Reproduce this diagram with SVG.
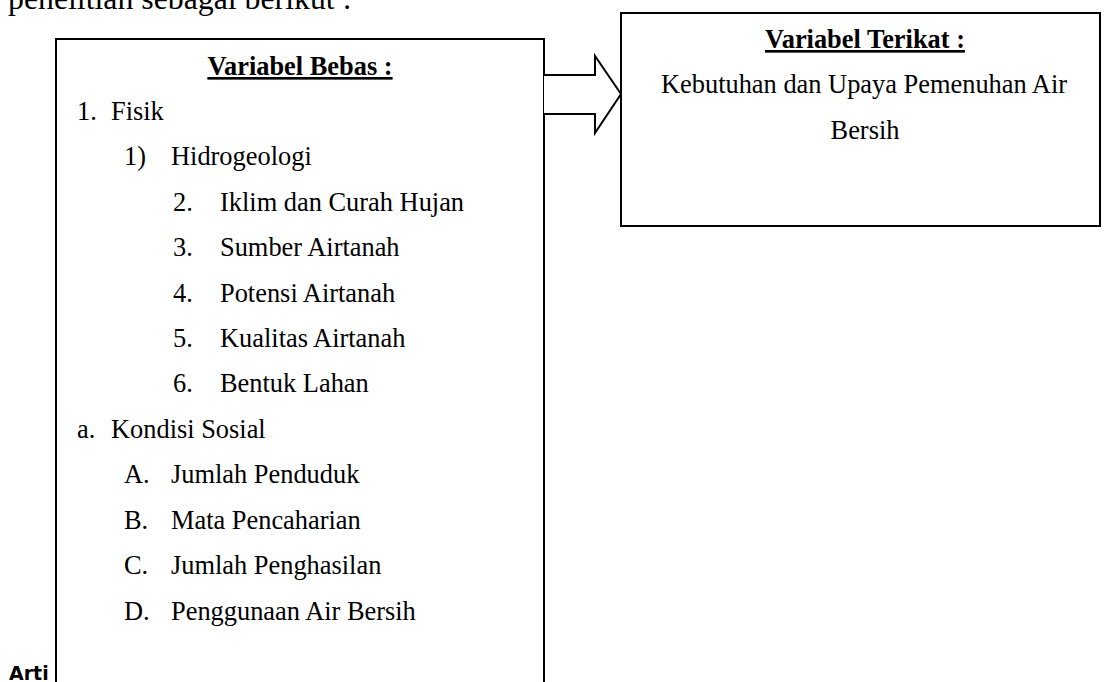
<svg xmlns="http://www.w3.org/2000/svg" width="1106" height="682" viewBox="0 0 1106 682">
<style>
.t{font-family:"Liberation Serif","Times New Roman",serif;font-size:26.4px;fill:#000}
.b{font-weight:bold;text-decoration:underline}
.box{fill:#fff;stroke:#000;stroke-width:2}
</style>
<rect width="1106" height="682" fill="#fff"/>
<text x="8" y="9" class="t" style="font-size:31.8px">penelitian sebagai berikut :</text>
<text x="9" y="680" style="font-family:'DejaVu Sans',sans-serif;font-weight:bold;font-size:19px">Arti</text>
<g id="bebas">
<path class="box" d="M56,690 V39 H544 V690"/>
<text x="300" y="75" class="t b" text-anchor="middle">Variabel Bebas :</text>
<g class="t">
<text x="77" y="120">1.</text><text x="111" y="120">Fisik</text>
<text x="124" y="165">1)</text><text x="171" y="165">Hidrogeologi</text>
<text x="173" y="211">2.</text><text x="220" y="211">Iklim dan Curah Hujan</text>
<text x="173" y="256">3.</text><text x="220" y="256">Sumber Airtanah</text>
<text x="173" y="302">4.</text><text x="220" y="302">Potensi Airtanah</text>
<text x="173" y="347">5.</text><text x="220" y="347">Kualitas Airtanah</text>
<text x="173" y="392">6.</text><text x="220" y="392">Bentuk Lahan</text>
<text x="77" y="438">a.</text><text x="111" y="438">Kondisi Sosial</text>
<text x="124" y="483">A.</text><text x="171" y="483">Jumlah Penduduk</text>
<text x="124" y="529">B.</text><text x="171" y="529">Mata Pencaharian</text>
<text x="124" y="574">C.</text><text x="171" y="574">Jumlah Penghasilan</text>
<text x="124" y="620">D.</text><text x="171" y="620">Penggunaan Air Bersih</text>
</g>
</g>
<g id="terikat">
<rect class="box" x="621" y="13" width="479" height="213"/>
<text x="865" y="48" class="t b" text-anchor="middle">Variabel Terikat :</text>
<text x="864" y="93" class="t" text-anchor="middle">Kebutuhan dan Upaya Pemenuhan Air</text>
<text x="865" y="139" class="t" text-anchor="middle">Bersih</text>
</g>
<g id="connectors">
<path d="M544,75 H595 V56 L621,94 L595,133 V114 H544" fill="#fff" stroke="#000" stroke-width="2" stroke-linejoin="miter"/>
</g>
</svg>
